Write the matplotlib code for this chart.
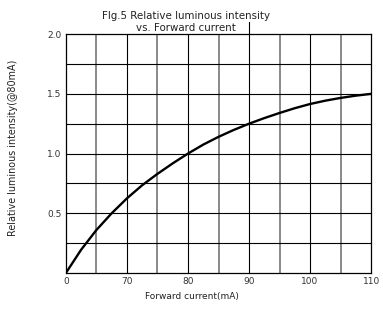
import matplotlib.pyplot as plt

plt.rcParams['font.family'] = ['DejaVu Sans']

current = [60, 62.5, 65, 67.5, 70, 72.5, 75, 77.5, 80, 82.5, 85, 87.5,
           90, 92.5, 95, 97.5, 100, 102.5, 105, 107.5, 110]
intensity = [0, 0.195, 0.36, 0.50, 0.625, 0.735, 0.83, 0.918, 1.0, 1.075, 1.14, 1.198,
             1.25, 1.297, 1.34, 1.38, 1.415, 1.443, 1.466, 1.485, 1.5]

x_ticks = [60, 70, 80, 90, 100, 110]
x_labels = ["0", "70", "80", "90", "100", "110"]
y_ticks = [0.5, 1.0, 1.5, 2.0]
y_labels = ["0.5", "1.0", "1.5", "2.0"]

fig = plt.figure(figsize=(3.83, 3.09), dpi=100)
ax = fig.add_axes([0.172, 0.1165, 0.797, 0.773])

# grid: black every 10 mA, gray in between; horizontals every 0.25
for x in range(65, 110, 10):
    ax.axvline(x, color="#808080", lw=1.3, zorder=1)
for x in range(70, 110, 10):
    ax.axvline(x, color="black", lw=0.8, zorder=1)
for i in range(1, 8):
    ax.axhline(i * 0.25, color="black", lw=0.8, zorder=1)

# the 90 line pokes above the frame
ax.plot([90, 90], [2.0, 2.1], color="black", lw=0.8, clip_on=False)

ax.plot(current, intensity, color="black", lw=1.7, zorder=3,
        solid_capstyle="round", solid_joinstyle="round")

ax.set_xlim(60, 110)
ax.set_ylim(0, 2.0)
ax.set_xticks(x_ticks, x_labels)
ax.set_yticks(y_ticks, y_labels)
ax.tick_params(length=0, labelsize=6.5, labelcolor="#333333", pad=3)
for s in ax.spines.values():
    s.set_linewidth(0.9)

fig.text(0.485, 0.948, "Flg.5 Relative luminous intensity", ha="center", va="center",
         fontsize=7.4, color="#222222")
fig.text(0.485, 0.91, "vs. Forward current", ha="center", va="center",
         fontsize=7.4, color="#222222")
fig.text(0.5, 0.042, "Forward current(mA)", ha="center", va="center",
         fontsize=6.5, color="#222222")
fig.text(0.034, 0.521, "Relative luminous intensity(@80mA)", ha="center", va="center",
         rotation=90, fontsize=6.9, color="#222222")

plt.savefig("out.png", dpi=100)
